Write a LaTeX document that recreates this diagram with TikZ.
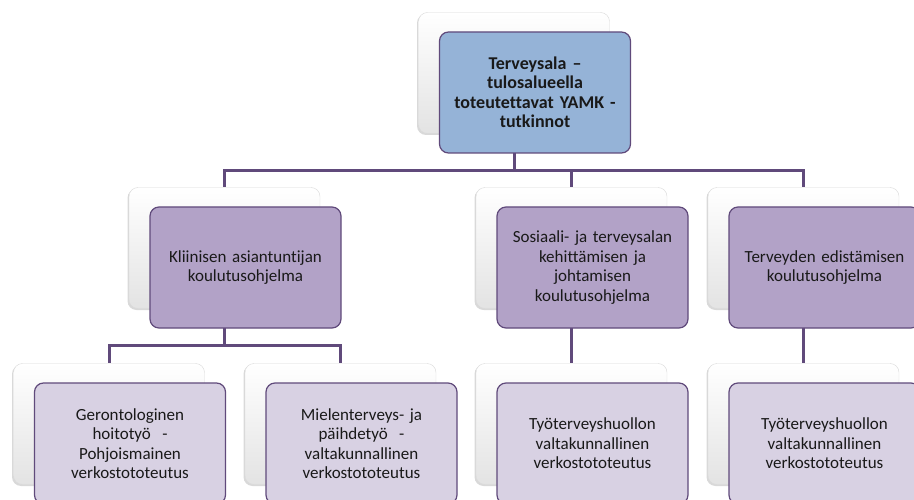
\documentclass[tikz,border=0pt]{standalone}
\usepackage{fontspec}
\setmainfont{Carlito}[Ligatures=CommonOff]
\usepackage{tikz}
\usetikzlibrary{shadows}
\definecolor{linkpurple}{HTML}{604A7B}
\definecolor{topblue}{HTML}{95B3D7}
\definecolor{midpurple}{HTML}{B2A2C7}
\definecolor{lowpurple}{HTML}{D8D1E3}
\tikzstyle{back} = [rectangle, rounded corners=9pt, minimum width=191pt, minimum height=121pt, draw=gray!30, top color=white, bottom color=gray!22, drop shadow={shadow xshift=-1.5pt, shadow yshift=-1.5pt, opacity=0.3}]
\tikzstyle{front} = [rectangle, rounded corners=9pt, minimum width=191pt, minimum height=121pt, text width=176pt, align=center, draw=linkpurple, line width=1.2pt, text=black!90, font=\fontsize{17}{19.5}\selectfont]
\tikzstyle{link} = [draw=linkpurple, line width=3pt]

\begin{document}
\begin{tikzpicture}[x=1pt, y=-1pt, node distance=21pt]
            \useasboundingbox (0,0) rectangle (914,500);
            \clip (0,0) rectangle (914,500);

            \node(topb) [back] at (514, 73) {};
            \node(klinb) [back] at (224.5, 248) {};
            \node(sosb) [back] at (571.5, 248) {};
            \node(tervb) [back] at (803.5, 248) {};
            \node(gerb) [back] at (109, 424) {};
            \node(mielb) [back] at (340.5, 424) {};
            \node(tyo1b) [back] at (571.5, 424) {};
            \node(tyo2b) [back] at (803.5, 424) {};

            \draw[link] (topb.south) -- ++(0, 36.5) -| (klinb.north);
            \draw[link] (topb.south) -- ++(0, 36.5) -| (sosb.north);
            \draw[link] (topb.south) -- ++(0, 36.5) -| (tervb.north);

            \draw[link] (klinb.south) -- ++(0, 36.5) -| (gerb.north);
            \draw[link] (klinb.south) -- ++(0, 36.5) -| (mielb.north);
            \draw[link] (sosb.south) -- (tyo1b.north);
            \draw[link] (tervb.south) -- (tyo2b.north);

            \node(top) [front, fill=topblue, right of=topb, yshift=-19.5pt, font=\fontsize{18}{19.5}\selectfont\bfseries] {Terveysala --\\ tulosalueella\\ toteutettavat YAMK -\\ tutkinnot};
            \node(klin) [front, fill=midpurple, right of=klinb, yshift=-19.5pt] {Kliinisen asiantuntijan\\ koulutusohjelma};
            \node(sos) [front, fill=midpurple, right of=sosb, yshift=-19.5pt] {Sosiaali- ja terveysalan\\ kehittämisen ja\\ johtamisen\\ koulutusohjelma};
            \node(terv) [front, fill=midpurple, right of=tervb, yshift=-19.5pt] {Terveyden edistämisen\\ koulutusohjelma};

            \node(ger) [front, fill=lowpurple, right of=gerb, yshift=-19.5pt] {Gerontologinen\\ hoitotyö~ -\\ Pohjoismainen\\ verkostototeutus};
            \node(miel) [front, fill=lowpurple, right of=mielb, yshift=-19.5pt] {Mielenterveys- ja\\ päihdetyö~ -\\ valtakunnallinen\\ verkostototeutus};
            \node(tyo1) [front, fill=lowpurple, right of=tyo1b, yshift=-19.5pt] {Työterveyshuollon\\ valtakunnallinen\\ verkostototeutus};
            \node(tyo2) [front, fill=lowpurple, right of=tyo2b, yshift=-19.5pt] {Työterveyshuollon\\ valtakunnallinen\\ verkostototeutus};
        \end{tikzpicture}
\end{document}
